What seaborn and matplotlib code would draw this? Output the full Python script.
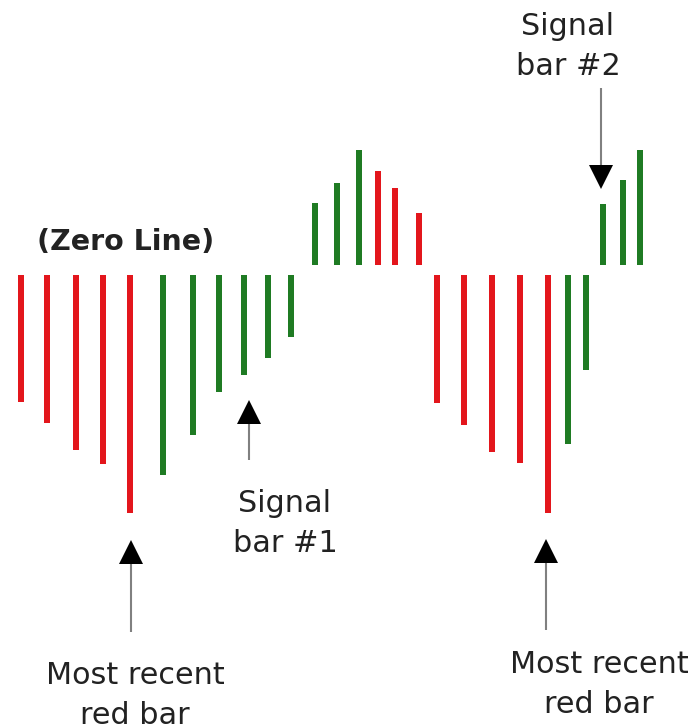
import numpy as np
import pandas as pd
import seaborn as sns
import matplotlib.pyplot as plt

# posicion de cada barra (eje x de la imagen) y su largo respecto a la linea cero
bar_x = [21, 47, 76, 103, 130, 163, 193, 219, 244, 268, 291,
         315, 337, 359, 378, 395, 419,
         437, 464, 492, 520, 548, 568, 586,
         603, 623, 640]
bar_value = [-127, -148, -175, -189, -238, -200, -160, -117, -100, -83, -62,
             62, 82, 115, 94, 77, 52,
             -128, -150, -177, -188, -238, -169, -95,
             61, 85, 115]
bar_color = (["red"] * 5 + ["green"] * 6 + ["green"] * 3 + ["red"] * 3
             + ["red"] * 5 + ["green"] * 2 + ["green"] * 3)

df = pd.DataFrame({"x": bar_x, "value": bar_value, "color": bar_color})

sns.set_style("white")
plt.rcParams["font.family"] = ["DejaVu Sans"]

fig = plt.figure(figsize=(6.94, 7.25), dpi=100)
ax = fig.add_axes([0, 0, 1, 1])

palette = {"red": "#e3161c", "green": "#1f7b23"}
GAP = 10      # las barras negativas empiezan un poco debajo de la linea cero
BAR_PX = 6.5  # ancho de barra

pos = df[df["value"] > 0]
neg = df[df["value"] < 0]
for part, base in [(pos, 0), (neg, -GAP)]:
    step = np.diff(np.sort(part["x"].unique())).min()
    sns.barplot(data=part, x="x", y="value", hue="color", palette=palette,
                native_scale=True, width=BAR_PX / step, dodge=False,
                saturation=1, errorbar=None, linewidth=0, bottom=base,
                legend=False, ax=ax)

ZERO = 265
Y = lambda p: ZERO - p  # pixel vertical -> coordenada de datos

ax.set_xlim(0, 694)
ax.set_ylim(Y(725), Y(0))
ax.set_axis_off()

# flechas: (x, inicio del trazo, centro de la punta, direccion)
arrows = [(131, 632, 552, "^"), (249, 460, 412, "^"),
          (546, 630, 551, "^"), (601, 88, 177, "v")]
for x, p0, ph, mk in arrows:
    p1 = ph + 12 if mk == "^" else ph - 12
    ax.plot([x, x], [Y(p0), Y(p1)], color="#808080", lw=1.5,
            solid_capstyle="butt")
    ax.plot([x], [Y(ph)], marker=mk, ms=17, color="black", mew=0)

# va="baseline" usa la linea base de la ultima linea del texto
txt = dict(fontsize=21.8, color="#222222", linespacing=1.47,
           ha="center", va="baseline")
ax.text(37, Y(250), "(Zero Line)", fontsize=20.5, fontweight="bold",
        color="#222222", ha="left", va="baseline")
ax.text(285, Y(552), "Signal\nbar #1", **txt)
ax.text(568, Y(75), "Signal\nbar #2", **txt)
ax.text(135, Y(724), "Most recent\nred bar", **txt)
ax.text(599, Y(713), "Most recent\nred bar", **txt)

fig.savefig("out.png", dpi=100)
